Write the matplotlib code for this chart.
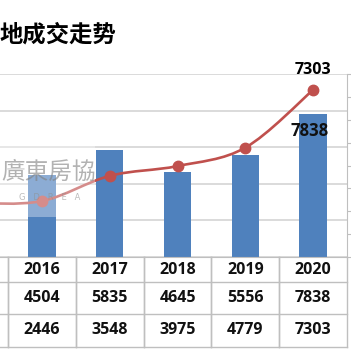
import matplotlib
matplotlib.use('Agg')
import matplotlib.pyplot as plt
from matplotlib.path import Path
from matplotlib.patches import PathPatch, Rectangle
import matplotlib.transforms as mtransforms

# data (2015 column is cut off at the left edge of the picture, values estimated)
years = ['2015', '2016', '2017', '2018', '2019', '2020']
supply = [3600, 4504, 5835, 4645, 5556, 7838]
deals = [2350, 2446, 3548, 3975, 4779, 7303]
title = '地成交走势'

W = 351
bar_c = '#4F81BD'
line_c = '#C0504D'
grid_c = '#d4d4d4'
tab_c = '#bfbfbf'

fig = plt.figure(figsize=(3.51, 3.51), dpi=100)

# plot area in pixels: x -59.6..346.9, y 74..257 (from top)
left_px, right_px, top_px, bot_px = -59.6, 346.9, 74, 257
ax = fig.add_axes([left_px / W, 1 - bot_px / W, (right_px - left_px) / W, (bot_px - top_px) / W])
x = list(range(len(years)))

ax.bar(x, supply, width=0.4, color=bar_c, zorder=2)
ax.set_xlim(-0.5, len(years) - 0.5)
ax.set_ylim(0, 10000)
ax.set_yticks(range(0, 10001, 2000))
ax.yaxis.grid(True, color=grid_c, lw=1.2)
ax.set_axisbelow(True)
ax.set_xticks([])
ax.tick_params(left=False, labelleft=False)
for s in ['left', 'top', 'right']:
    ax.spines[s].set_visible(False)
ax.spines['bottom'].set_color(tab_c)

ax2 = ax.twinx()
ax2.set_ylim(0, 8000)
ax2.set_yticks(range(0, 8001, 1000))
ax2.tick_params(axis='y', direction='out', length=3, color=tab_c, labelright=False)
for s in ['left', 'top', 'bottom']:
    ax2.spines[s].set_visible(False)
ax2.spines['right'].set_color(tab_c)

# smoothed line (Catmull-Rom as cubic Bezier through the points)
pts = list(zip(x, deals))
verts = [pts[0]]
codes = [Path.MOVETO]
for i in range(len(pts) - 1):
    p0 = pts[i - 1] if i > 0 else pts[i]
    p1, p2 = pts[i], pts[i + 1]
    p3 = pts[i + 2] if i + 2 < len(pts) else pts[i + 1]
    c1 = (p1[0] + (p2[0] - p0[0]) / 6, p1[1] + (p2[1] - p0[1]) / 6)
    c2 = (p2[0] - (p3[0] - p1[0]) / 6, p2[1] - (p3[1] - p1[1]) / 6)
    verts += [c1, c2, p2]
    codes += [Path.CURVE4] * 3
ax2.add_patch(PathPatch(Path(verts, codes), facecolor='none', edgecolor=line_c, lw=1.9, zorder=3))
ax2.plot(x, deals, 'o', color=line_c, ms=7.5, zorder=4)

# data labels on the last year
ax2.annotate(str(deals[-1]), (x[-1], deals[-1]), xytext=(0, 14), textcoords='offset points',
             ha='center', va='center', fontsize=11.5, fontweight='bold', family='Open Sans')
ax.annotate(str(supply[-1]), (x[-1], supply[-1]), xytext=(-2.5, -12.5), textcoords='offset points',
            ha='center', va='center', fontsize=12, fontweight='bold', family='Open Sans',
            color='#111111')

# data table below the plot
def ay(py):
    return (bot_px - py) / (bot_px - top_px)

tr = mtransforms.blended_transform_factory(ax.transData, ax.transAxes)
for py in [282, 314, 347]:
    ax.plot([-0.5 - 1, len(years) - 0.5], [ay(py)] * 2, color=tab_c, lw=1, transform=tr, clip_on=False)
for b in range(len(years)):
    ax.plot([b + 0.5] * 2, [ay(bot_px), ay(347)], color=tab_c, lw=1, transform=tr, clip_on=False)
    ax.plot([b - 0.5] * 2, [ay(bot_px), ay(347)], color=tab_c, lw=1, transform=tr, clip_on=False)
# the 2015 column lies outside the visible picture, so only the rest gets text
for i in x[1:]:
    for py, val in [(269.5, years[i]), (298, supply[i]), (330.5, deals[i])]:
        ax.text(i, ay(py), str(val), transform=tr, ha='center', va='center',
                fontsize=11.5, fontweight='bold', family='Open Sans', color='#111111')

# title (cut at the left in the original)
fig.text(0.0, 1 - 34.5 / W, title, ha='left', va='center', fontsize=16.8,
         fontweight='bold', family=['Noto Sans CJK SC', 'DejaVu Sans'])

# watermark
fig.add_artist(Rectangle((0, 1 - 217 / W), 95 / W, 85 / W, transform=fig.transFigure,
                         facecolor='white', alpha=0.35, edgecolor='none', zorder=5))
fig.text(1 / W, 1 - 172 / W, '廣東房協', ha='left', va='center', fontsize=17,
         family=['Noto Sans CJK TC', 'DejaVu Sans'], fontweight='light', color='#808080',
         alpha=0.6, zorder=6)
fig.text(50 / W, 1 - 197 / W, 'G   D   R   E   A', ha='center', va='center', fontsize=6,
         color='#909090', alpha=0.6, zorder=6)

fig.savefig('out.png', dpi=100)
